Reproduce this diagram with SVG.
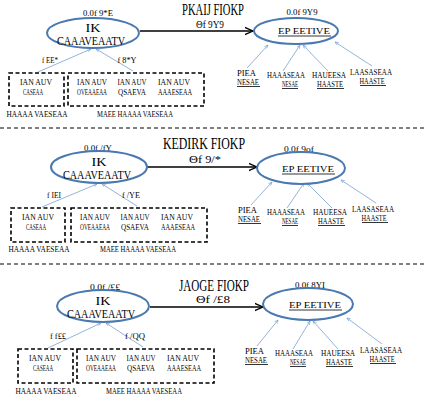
<svg xmlns="http://www.w3.org/2000/svg" width="426" height="400" viewBox="0 0 426 400">
<defs>
<style>
.t{font-family:"Liberation Serif","DejaVu Serif",serif;fill:#000;}
.s{font-size:9px;}
.m{font-size:12.5px;}
.l{font-size:11px;}
.ttl{font-family:"Liberation Serif","DejaVu Serif",serif;font-size:17px;fill:#000;}
.ell{fill:#fff;stroke:#4a78b0;stroke-width:2;}
.box{fill:none;stroke:#000;stroke-width:1.6;stroke-dasharray:4,2.5;}
.blue{stroke:#7b9fd2;stroke-width:0.8;fill:none;}
.arr{stroke:#000;stroke-width:1.3;fill:none;}
.sep{stroke:#000;stroke-width:1;stroke-dasharray:4,3;}
.u{stroke:#000;stroke-width:0.8;}
</style>
<marker id="ab" viewBox="0 0 10 10" refX="9" refY="5" markerWidth="5" markerHeight="5" orient="auto"><path d="M0,1 L9,5 L0,9" fill="none" stroke="#7b9fd2" stroke-width="1.5"/></marker>
<marker id="ak" viewBox="0 0 10 10" refX="9" refY="5" markerWidth="7" markerHeight="7" orient="auto"><path d="M0,1 L9,5 L0,9" fill="none" stroke="#000" stroke-width="1.5"/></marker>
</defs>
<rect width="426" height="400" fill="#fff"/>

<g id="separators">
<line class="sep" x1="0" y1="128" x2="426" y2="128"/>
<line class="sep" x1="0" y1="264" x2="426" y2="264"/>
</g>

<!-- Section 1 -->
<g id="sec1">
<text id="title1" class="ttl" x="213" y="15" text-anchor="middle" textLength="62" lengthAdjust="spacingAndGlyphs">PKAIJ FIOKP</text>
<g id="connectors1">
<line class="arr" x1="140" y1="31" x2="253" y2="31" marker-end="url(#ak)"/>
<text class="t l" x="210" y="28" text-anchor="middle" textLength="28" lengthAdjust="spacingAndGlyphs">Θf 9Y9</text>
<line class="blue" x1="38" y1="72" x2="91" y2="49" marker-end="url(#ab)"/>
<line class="blue" x1="133" y1="71" x2="96" y2="49" marker-end="url(#ab)"/>
<text class="t s" x="50" y="63" text-anchor="middle" textLength="16" lengthAdjust="spacingAndGlyphs">f EE*</text>
<text class="t s" x="127" y="63" text-anchor="middle" textLength="19" lengthAdjust="spacingAndGlyphs">f 8*Y</text>
<line class="blue" x1="247" y1="68" x2="268" y2="45" marker-end="url(#ab)"/>
<line class="blue" x1="283" y1="71" x2="300" y2="45" marker-end="url(#ab)"/>
<line class="blue" x1="328" y1="71" x2="303" y2="45" marker-end="url(#ab)"/>
<line class="blue" x1="372" y1="66" x2="335" y2="42" marker-end="url(#ab)"/>
</g>
<g id="n1_core">
<text class="t s" x="98" y="16" text-anchor="middle" textLength="30" lengthAdjust="spacingAndGlyphs">0.0f 9*E</text>
<ellipse class="ell" cx="93" cy="33" rx="46" ry="15"/>
<text class="t m" x="93" y="32" text-anchor="middle" textLength="15" lengthAdjust="spacingAndGlyphs">IK</text>
<text class="t m" x="91" y="45" text-anchor="middle" textLength="68" lengthAdjust="spacingAndGlyphs">CAAAVEAATV</text>
</g>
<g id="n1_goal">
<text class="t s" x="302" y="15" text-anchor="middle" textLength="31" lengthAdjust="spacingAndGlyphs">0.0f 9Y9</text>
<ellipse class="ell" cx="296" cy="31" rx="42" ry="13"/>
<text class="t s" x="304" y="34" text-anchor="middle" textLength="52" lengthAdjust="spacingAndGlyphs">EP EETIVE</text>
<line class="u" x1="278" y1="36" x2="331" y2="36"/>
</g>
<g id="n1_box1">
<rect class="box" x="9" y="73" width="55" height="33"/>
<text class="t s" x="36" y="85" text-anchor="middle" textLength="32" lengthAdjust="spacingAndGlyphs">IAN AUV</text>
<text class="t s" x="33" y="95" text-anchor="middle" textLength="20" lengthAdjust="spacingAndGlyphs">CASEAA</text>
<text class="t s" x="37" y="117" text-anchor="middle" textLength="61" lengthAdjust="spacingAndGlyphs">HAAAA VAESEAA</text>
</g>
<g id="n1_box2">
<rect class="box" x="68" y="73" width="136" height="33"/>
<text class="t s" x="92" y="85" text-anchor="middle" textLength="30" lengthAdjust="spacingAndGlyphs">IAN AUV</text>
<text class="t s" x="92" y="95" text-anchor="middle" textLength="30" lengthAdjust="spacingAndGlyphs">OVEAAEAA</text>
<text class="t s" x="132" y="85" text-anchor="middle" textLength="29" lengthAdjust="spacingAndGlyphs">IAN AUV</text>
<text class="t s" x="132" y="95" text-anchor="middle" textLength="28" lengthAdjust="spacingAndGlyphs">QSAEVA</text>
<text class="t s" x="174" y="85" text-anchor="middle" textLength="32" lengthAdjust="spacingAndGlyphs">IAN AUV</text>
<text class="t s" x="175" y="95" text-anchor="middle" textLength="34" lengthAdjust="spacingAndGlyphs">AAAESEAA</text>
<text class="t s" x="135" y="117" text-anchor="middle" textLength="76" lengthAdjust="spacingAndGlyphs">MAEE HAAAA VAESEAA</text>
</g>
<g id="n1_leaf1">
<text class="t s" x="237" y="76" textLength="19" lengthAdjust="spacingAndGlyphs">PIEA</text>
<text class="t s" x="237" y="85" textLength="22" lengthAdjust="spacingAndGlyphs">NESAE</text>
<line class="u" x1="237" y1="86.5" x2="260" y2="86.5"/>
</g>
<g id="n1_leaf2">
<text class="t s" x="286" y="78" text-anchor="middle" textLength="38" lengthAdjust="spacingAndGlyphs">HAAASEAA</text>
<text class="t s" x="290" y="87" text-anchor="middle" textLength="16" lengthAdjust="spacingAndGlyphs">NESAE</text>
<line class="u" x1="282" y1="88.5" x2="298" y2="88.5"/>
</g>
<g id="n1_leaf3">
<text class="t s" x="329" y="78" text-anchor="middle" textLength="34" lengthAdjust="spacingAndGlyphs">HAUEESA</text>
<text class="t s" x="330" y="87" text-anchor="middle" textLength="26" lengthAdjust="spacingAndGlyphs">HAASTE</text>
<line class="u" x1="317" y1="88.5" x2="344" y2="88.5"/>
</g>
<g id="n1_leaf4">
<text class="t s" x="371" y="75" text-anchor="middle" textLength="42" lengthAdjust="spacingAndGlyphs">LAASASEAA</text>
<text class="t s" x="372" y="84" text-anchor="middle" textLength="25" lengthAdjust="spacingAndGlyphs">HAASTE</text>
<line class="u" x1="360" y1="85.5" x2="386" y2="85.5"/>
</g>
</g>

<!-- Section 2 -->
<text id="title2" class="ttl" x="204" y="149" text-anchor="middle" textLength="82" lengthAdjust="spacingAndGlyphs">KEDIRK FIOKP</text>
<g id="sec2" transform="translate(4,135)">
<g id="connectors2">
<line class="arr" x1="142" y1="32" x2="253" y2="32" marker-end="url(#ak)"/>
<text class="t l" x="201" y="28" text-anchor="middle" textLength="32" lengthAdjust="spacingAndGlyphs">Θf 9/*</text>
<line class="blue" x1="38" y1="72" x2="93" y2="49" marker-end="url(#ab)"/>
<line class="blue" x1="133" y1="71" x2="98" y2="49" marker-end="url(#ab)"/>
<text class="t s" x="50" y="63" text-anchor="middle" textLength="14" lengthAdjust="spacingAndGlyphs">f IEI</text>
<text class="t s" x="127" y="63" text-anchor="middle" textLength="18" lengthAdjust="spacingAndGlyphs">f /YE</text>
<line class="blue" x1="247" y1="70" x2="268" y2="47" marker-end="url(#ab)"/>
<line class="blue" x1="283" y1="73" x2="300" y2="48" marker-end="url(#ab)"/>
<line class="blue" x1="328" y1="73" x2="303" y2="48" marker-end="url(#ab)"/>
<line class="blue" x1="372" y1="68" x2="337" y2="45" marker-end="url(#ab)"/>
</g>
<g id="n2_core">
<text class="t s" x="94" y="16" text-anchor="middle" textLength="28" lengthAdjust="spacingAndGlyphs">0.0f /fY</text>
<ellipse class="ell" cx="95" cy="32" rx="48" ry="16"/>
<text class="t m" x="95" y="31" text-anchor="middle" textLength="15" lengthAdjust="spacingAndGlyphs">IK</text>
<text class="t m" x="93" y="44" text-anchor="middle" textLength="68" lengthAdjust="spacingAndGlyphs">CAAAVEAATV</text>
</g>
<g id="n2_goal">
<text class="t s" x="295" y="17" text-anchor="middle" textLength="30" lengthAdjust="spacingAndGlyphs">0.0f 9of</text>
<ellipse class="ell" cx="297" cy="33" rx="44" ry="16"/>
<text class="t s" x="304" y="37" text-anchor="middle" textLength="52" lengthAdjust="spacingAndGlyphs">EP EETIVE</text>
<line class="u" x1="278" y1="39" x2="331" y2="39"/>
</g>
<g id="n2_box1">
<rect class="box" x="7" y="73" width="54" height="34"/>
<text class="t s" x="34" y="85" text-anchor="middle" textLength="32" lengthAdjust="spacingAndGlyphs">IAN AUV</text>
<text class="t s" x="32" y="95" text-anchor="middle" textLength="20" lengthAdjust="spacingAndGlyphs">CASEAA</text>
<text class="t s" x="35" y="117" text-anchor="middle" textLength="61" lengthAdjust="spacingAndGlyphs">HAAAA VAESEAA</text>
</g>
<g id="n2_box2">
<rect class="box" x="67" y="73" width="136" height="34"/>
<text class="t s" x="91" y="85" text-anchor="middle" textLength="30" lengthAdjust="spacingAndGlyphs">IAN AUV</text>
<text class="t s" x="91" y="95" text-anchor="middle" textLength="30" lengthAdjust="spacingAndGlyphs">OVEAAEAA</text>
<text class="t s" x="131" y="85" text-anchor="middle" textLength="29" lengthAdjust="spacingAndGlyphs">IAN AUV</text>
<text class="t s" x="131" y="95" text-anchor="middle" textLength="28" lengthAdjust="spacingAndGlyphs">QSAEVA</text>
<text class="t s" x="173" y="85" text-anchor="middle" textLength="32" lengthAdjust="spacingAndGlyphs">IAN AUV</text>
<text class="t s" x="174" y="95" text-anchor="middle" textLength="34" lengthAdjust="spacingAndGlyphs">AAAESEAA</text>
<text class="t s" x="134" y="117" text-anchor="middle" textLength="76" lengthAdjust="spacingAndGlyphs">MAEE HAAAA VAESEAA</text>
</g>
<g id="n2_leaf1">
<text class="t s" x="234" y="78" textLength="19" lengthAdjust="spacingAndGlyphs">PIEA</text>
<text class="t s" x="234" y="87" textLength="22" lengthAdjust="spacingAndGlyphs">NESAE</text>
<line class="u" x1="234" y1="88.5" x2="257" y2="88.5"/>
</g>
<g id="n2_leaf2">
<text class="t s" x="282" y="80" text-anchor="middle" textLength="38" lengthAdjust="spacingAndGlyphs">HAAASEAA</text>
<text class="t s" x="286" y="89" text-anchor="middle" textLength="16" lengthAdjust="spacingAndGlyphs">NESAE</text>
<line class="u" x1="278" y1="90.5" x2="294" y2="90.5"/>
</g>
<g id="n2_leaf3">
<text class="t s" x="326" y="80" text-anchor="middle" textLength="34" lengthAdjust="spacingAndGlyphs">HAUEESA</text>
<text class="t s" x="327" y="89" text-anchor="middle" textLength="26" lengthAdjust="spacingAndGlyphs">HAASTE</text>
<line class="u" x1="314" y1="90.5" x2="341" y2="90.5"/>
</g>
<g id="n2_leaf4">
<text class="t s" x="369" y="77" text-anchor="middle" textLength="42" lengthAdjust="spacingAndGlyphs">LAASASEAA</text>
<text class="t s" x="370" y="86" text-anchor="middle" textLength="25" lengthAdjust="spacingAndGlyphs">HAASTE</text>
<line class="u" x1="358" y1="87.5" x2="384" y2="87.5"/>
</g>
</g>

<!-- Section 3 -->
<text id="title3" class="ttl" x="214" y="291" text-anchor="middle" textLength="70" lengthAdjust="spacingAndGlyphs">JAOGE FIOKP</text>
<g id="sec3" transform="translate(10,273)">
<g id="connectors3">
<line class="arr" x1="140" y1="34" x2="253" y2="34" marker-end="url(#ak)"/>
<text class="t l" x="203" y="30" text-anchor="middle" textLength="34" lengthAdjust="spacingAndGlyphs">Θf /£8</text>
<line class="blue" x1="38" y1="75" x2="91" y2="50" marker-end="url(#ab)"/>
<line class="blue" x1="133" y1="74" x2="96" y2="50" marker-end="url(#ab)"/>
<text class="t s" x="48" y="66" text-anchor="middle" textLength="16" lengthAdjust="spacingAndGlyphs">f f££</text>
<text class="t s" x="125" y="66" text-anchor="middle" textLength="20" lengthAdjust="spacingAndGlyphs">f /QQ</text>
<line class="blue" x1="247" y1="73" x2="268" y2="47" marker-end="url(#ab)"/>
<line class="blue" x1="283" y1="76" x2="300" y2="48" marker-end="url(#ab)"/>
<line class="blue" x1="328" y1="76" x2="303" y2="48" marker-end="url(#ab)"/>
<line class="blue" x1="372" y1="71" x2="337" y2="45" marker-end="url(#ab)"/>
</g>
<g id="n3_core">
<text class="t s" x="95" y="17" text-anchor="middle" textLength="30" lengthAdjust="spacingAndGlyphs">0.0f /££</text>
<ellipse class="ell" cx="93" cy="33" rx="46" ry="16"/>
<text class="t m" x="93" y="32" text-anchor="middle" textLength="15" lengthAdjust="spacingAndGlyphs">IK</text>
<text class="t m" x="91" y="45" text-anchor="middle" textLength="68" lengthAdjust="spacingAndGlyphs">CAAAVEAATV</text>
</g>
<g id="n3_goal">
<text class="t s" x="300" y="15" text-anchor="middle" textLength="30" lengthAdjust="spacingAndGlyphs">0.0f 8YI</text>
<ellipse class="ell" cx="298" cy="31" rx="45" ry="16"/>
<text class="t s" x="305" y="35" text-anchor="middle" textLength="52" lengthAdjust="spacingAndGlyphs">EP EETIVE</text>
<line class="u" x1="279" y1="37" x2="332" y2="37"/>
</g>
<g id="n3_box1">
<rect class="box" x="8" y="76" width="55" height="34"/>
<text class="t s" x="35" y="88" text-anchor="middle" textLength="32" lengthAdjust="spacingAndGlyphs">IAN AUV</text>
<text class="t s" x="33" y="98" text-anchor="middle" textLength="20" lengthAdjust="spacingAndGlyphs">CASEAA</text>
<text class="t s" x="36" y="121" text-anchor="middle" textLength="61" lengthAdjust="spacingAndGlyphs">HAAAA VAESEAA</text>
</g>
<g id="n3_box2">
<rect class="box" x="67" y="76" width="137" height="34"/>
<text class="t s" x="91" y="88" text-anchor="middle" textLength="30" lengthAdjust="spacingAndGlyphs">IAN AUV</text>
<text class="t s" x="91" y="98" text-anchor="middle" textLength="30" lengthAdjust="spacingAndGlyphs">OVEAAEAA</text>
<text class="t s" x="131" y="88" text-anchor="middle" textLength="29" lengthAdjust="spacingAndGlyphs">IAN AUV</text>
<text class="t s" x="131" y="98" text-anchor="middle" textLength="28" lengthAdjust="spacingAndGlyphs">QSAEVA</text>
<text class="t s" x="173" y="88" text-anchor="middle" textLength="32" lengthAdjust="spacingAndGlyphs">IAN AUV</text>
<text class="t s" x="174" y="98" text-anchor="middle" textLength="34" lengthAdjust="spacingAndGlyphs">AAAESEAA</text>
<text class="t s" x="134" y="121" text-anchor="middle" textLength="76" lengthAdjust="spacingAndGlyphs">MAEE HAAAA VAESEAA</text>
</g>
<g id="n3_leaf1">
<text class="t s" x="235" y="81" textLength="19" lengthAdjust="spacingAndGlyphs">PIEA</text>
<text class="t s" x="235" y="90" textLength="22" lengthAdjust="spacingAndGlyphs">NESAE</text>
<line class="u" x1="235" y1="91.5" x2="258" y2="91.5"/>
</g>
<g id="n3_leaf2">
<text class="t s" x="284" y="83" text-anchor="middle" textLength="38" lengthAdjust="spacingAndGlyphs">HAAASEAA</text>
<text class="t s" x="288" y="92" text-anchor="middle" textLength="16" lengthAdjust="spacingAndGlyphs">NESAE</text>
<line class="u" x1="280" y1="93.5" x2="296" y2="93.5"/>
</g>
<g id="n3_leaf3">
<text class="t s" x="328" y="83" text-anchor="middle" textLength="34" lengthAdjust="spacingAndGlyphs">HAUEESA</text>
<text class="t s" x="329" y="92" text-anchor="middle" textLength="26" lengthAdjust="spacingAndGlyphs">HAASTE</text>
<line class="u" x1="316" y1="93.5" x2="343" y2="93.5"/>
</g>
<g id="n3_leaf4">
<text class="t s" x="371" y="80" text-anchor="middle" textLength="42" lengthAdjust="spacingAndGlyphs">LAASASEAA</text>
<text class="t s" x="372" y="89" text-anchor="middle" textLength="25" lengthAdjust="spacingAndGlyphs">HAASTE</text>
<line class="u" x1="360" y1="90.5" x2="386" y2="90.5"/>
</g>
</g>
</svg>
